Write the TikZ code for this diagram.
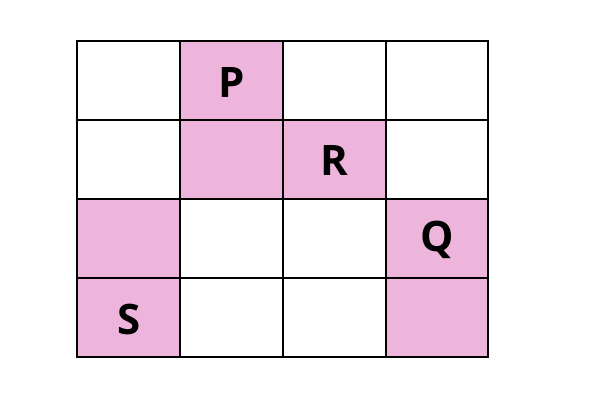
\documentclass[tikz,border=0pt]{standalone}
\usepackage{fontspec}
\setmainfont{Open Sans}
\definecolor{cellpink}{HTML}{EEB5DC}
\begin{document}
\begin{tikzpicture}[x=1pt,y=-1pt,
  cell/.style={minimum width=103pt,minimum height=79pt,inner sep=0pt,anchor=north west,font=\fontsize{42}{42}\selectfont\bfseries},
  pinkcell/.style={cell,fill=cellpink},
  gridline/.style={draw=black,line width=2pt,line cap=rect}]
\useasboundingbox (0,0) rectangle (600,400);
\node[pinkcell] (p) at (180,41) {};
\node[pinkcell] (p2) at (180,120) {};
\node[pinkcell] (r) at (283,120) {};
\node[pinkcell] (s2) at (77,199) {};
\node[pinkcell] (q) at (386,199) {};
\node[pinkcell] (s) at (77,278) {};
\node[pinkcell] (q2) at (386,278) {};
\foreach \x in {77,180,283,386,488}{
  \draw[gridline] (\x,41) -- (\x,357);
}
\foreach \y in {41,120,199,278,357}{
  \draw[gridline] (77,\y) -- (488,\y);
}
\node[cell,anchor=center,yshift=-2pt] at (p.center) {P};
\node[cell,anchor=center,yshift=-1pt] at (r.center) {R};
\node[cell,anchor=center,yshift=-1pt] at (q.center) {Q};
\node[cell,anchor=center,yshift=-2pt] at (s.center) {S};
\end{tikzpicture}
\end{document}
